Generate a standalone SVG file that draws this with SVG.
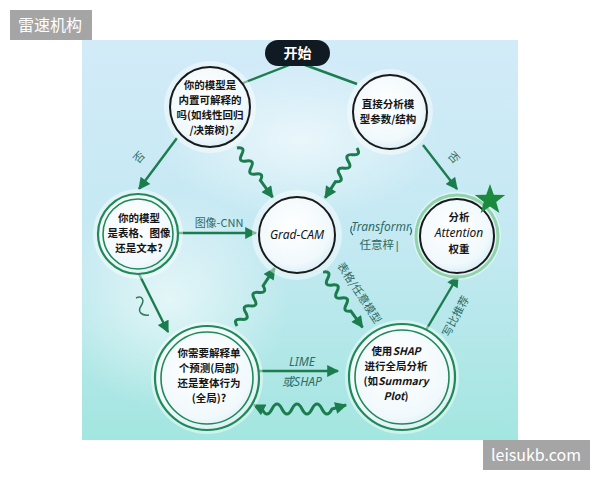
<svg xmlns="http://www.w3.org/2000/svg" width="600" height="480" viewBox="0 0 600 480">
<defs>
<linearGradient id="bg" x1="0" y1="0" x2="0" y2="1">
<stop offset="0" stop-color="#d2ebf8"/>
<stop offset="0.5" stop-color="#c4e9f2"/>
<stop offset="1" stop-color="#a3e6e0"/>
</linearGradient>
<radialGradient id="glow" cx="0.5" cy="0.5" r="0.5">
<stop offset="0" stop-color="#ffffff" stop-opacity="0.6"/>
<stop offset="1" stop-color="#ffffff" stop-opacity="0"/>
</radialGradient>
<radialGradient id="nodefill" cx="0.45" cy="0.4" r="0.6">
<stop offset="0" stop-color="#ffffff"/>
<stop offset="0.8" stop-color="#f1f9fc"/>
<stop offset="1" stop-color="#dcf0f7"/>
</radialGradient>
<marker id="ah" viewBox="0 0 10 10" refX="9" refY="5" markerWidth="13" markerHeight="12" markerUnits="userSpaceOnUse" orient="auto-start-reverse">
<path d="M0,0 L10,5 L0,10 z" fill="#1b7d4e"/>
</marker>
<style>
.ln{fill:none;stroke:#1b7d4e;stroke-width:2.4}
.wv{fill:none;stroke:#1b7d4e;stroke-width:3}
.halo{fill:#ffffff;fill-opacity:0.45}
.nb{fill:url(#nodefill);stroke:#1a1a1a;stroke-width:2}
.ng{fill:url(#nodefill);stroke:#1f8a55;stroke-width:2.2}
.ri{fill:none;stroke:#1f8a55;stroke-width:1.6}
.t{font-family:"Noto Sans CJK SC","Noto Sans",sans-serif;font-weight:700;font-size:10.5px;fill:#151515;text-anchor:middle}
.ti{font-family:"Noto Sans","Noto Sans CJK SC",sans-serif;font-style:italic;font-size:12px;fill:#151515}
.lb{font-family:"Noto Sans CJK SC","Noto Sans",sans-serif;font-size:11px;fill:#2e6b66;text-anchor:middle}
.lbi{font-family:"Noto Sans","Noto Sans CJK SC",sans-serif;font-style:italic;font-size:12px;fill:#2e6b66;text-anchor:middle}
.wm{font-family:"Noto Sans CJK SC","Liberation Sans",sans-serif;font-size:16px;fill:#ffffff}
</style>
</defs>

<rect x="0" y="0" width="600" height="480" fill="#ffffff"/>
<rect x="82" y="40" width="436" height="400" fill="url(#bg)"/>
<ellipse cx="170" cy="300" rx="120" ry="110" fill="url(#glow)"/>
<ellipse cx="300" cy="140" rx="140" ry="80" fill="url(#glow)"/>

<g id="connectors">
<path class="ln" d="M297,62 L243,83"/>
<path class="ln" d="M297,62 L357,84"/>
<path class="ln" d="M177,138 L139,189" marker-end="url(#ah)"/>
<path class="ln" d="M423,145 L457,189" marker-end="url(#ah)"/>
<path class="ln" d="M139,274 L168,332" marker-end="url(#ah)"/>
<path class="ln" d="M178,233 L256,233" marker-end="url(#ah)"/>
<path class="ln" d="M259,371 L338,371" marker-end="url(#ah)"/>
<path class="ln" d="M426,330 L458,276" marker-end="url(#ah)"/>
<path class="wv" transform="translate(237,148) rotate(54.2)" d="M0,0 q4,-8 8,0 t8,0 t8,0 t8,0 t8,0 L52,0 L61,0" marker-end="url(#ah)"/>
<path class="wv" transform="translate(357,148) rotate(122.6)" d="M0,0 q4,-8 8,0 t8,0 t8,0 t8,0 t8,0 L50,0 L59,0" marker-end="url(#ah)"/>
<path class="wv" transform="translate(323,272) rotate(54.5)" d="M0,0 q4,-8 8,0 t8,0 t8,0 t8,0 t8,0 t8,0 L58,0 L68,0" marker-end="url(#ah)"/>
<path class="wv" transform="translate(237,326) rotate(-57)" d="M0,0 q4,-8 8,0 t8,0 t8,0 t8,0 t8,0 t8,0 L58,0 L69,0" marker-end="url(#ah)"/>
<path class="wv" d="M254,405 L262,409 q5,10 10,0 t10,0 t10,0 t10,0 t10,0 t10,0 t10,0 L346,405" marker-start="url(#ah)" marker-end="url(#ah)"/>
<path fill="none" stroke="#2e7d5a" stroke-width="1.5" d="M136,298 c6,-3 9,2 5,8 s1,10 8,9"/>
<text class="lb" font-size="12" transform="translate(142,160) rotate(-48)">否</text>
<text class="lb" font-size="12" transform="translate(451,160) rotate(48)">否</text>
<text class="lb" x="219" y="227" font-size="12">图像-CNN</text>
<text class="lbi"><tspan x="302" y="366">LIME</tspan><tspan x="302" y="386">或SHAP</tspan></text>
<text class="lbi" font-size="13.5"><tspan x="381" y="231">Transformr</tspan><tspan x="380" y="249" font-style="normal" font-size="11.5">任意梓|</tspan></text>
<path fill="none" stroke="#2e6b66" stroke-width="1.2" d="M352,226 q-3,5 1,9 M410,227 q3,4 0,8"/>
<text class="lb" font-size="10" transform="translate(356,295) rotate(57)">表格/任意模型</text>
<text class="lb" font-size="10.5" transform="translate(459,318) rotate(-62)">写比推荐</text>
</g>

<g id="start">
<rect x="265" y="40" width="65" height="26" rx="13" fill="#0f1a22"/>
<text x="297.5" y="58" font-family="'Noto Sans CJK SC',sans-serif" font-weight="700" font-size="14" fill="#ffffff" text-anchor="middle">开始</text>
</g>

<g id="node-builtin">
<circle class="halo" cx="210" cy="107" r="46"/>
<circle class="nb" cx="210" cy="107" r="40"/>
<text class="t"><tspan x="210" y="89">你的模型是</tspan><tspan x="210" y="104">内置可解释的</tspan><tspan x="210" y="119">吗(如线性回归</tspan><tspan x="212" y="134">/决策树)?</tspan></text>
</g>

<g id="node-params">
<circle class="halo" cx="390" cy="112" r="43"/>
<circle class="nb" cx="390" cy="112" r="37"/>
<text class="t"><tspan x="388" y="108">直接分析模</tspan><tspan x="388" y="123">型参数/结构</tspan></text>
</g>

<g id="node-type">
<circle class="halo" cx="138" cy="234" r="45"/>
<circle class="ng" cx="138" cy="234" r="40"/>
<circle class="ri" cx="138" cy="234" r="35"/>
<text class="t"><tspan x="139" y="222">你的模型</tspan><tspan x="139" y="237">是表格、图像</tspan><tspan x="139" y="252">还是文本?</tspan></text>
</g>

<g id="node-gradcam">
<circle class="halo" cx="297" cy="235" r="45"/>
<circle class="nb" cx="297" cy="235" r="38"/>
<text class="ti" x="297" y="239" font-size="14" text-anchor="middle" fill="#111">Grad-CAM</text>
</g>

<g id="node-attention">
<circle class="halo" cx="457" cy="236" r="44"/>
<circle fill="none" stroke="#8fd3a8" stroke-width="3" cx="457" cy="236" r="41"/>
<circle class="nb" cx="457" cy="236" r="37" stroke="#1d2b25"/>
<text class="t"><tspan x="459" y="221">分析</tspan><tspan x="459" y="237" font-family="'Noto Sans',sans-serif" font-style="italic" font-weight="400" font-size="12">Attention</tspan><tspan x="459" y="253">权重</tspan></text>
<polygon fill="#1c8a3e" points="490,184 493.8,194.8 505.2,195.1 496.2,202.1 499.4,213.1 490,206.6 480.6,213.1 483.8,202.1 474.8,195.1 486.2,194.8"/>
</g>

<g id="node-scope">
<circle class="halo" cx="207" cy="378" r="56"/>
<circle class="ng" cx="207" cy="378" r="52"/>
<circle class="ri" cx="207" cy="378" r="46"/>
<text class="t"><tspan x="209" y="357">你需要解释单</tspan><tspan x="209" y="372">个预测(局部)</tspan><tspan x="209" y="387">还是整体行为</tspan><tspan x="209" y="402">(全局)?</tspan></text>
</g>

<g id="node-shap">
<circle class="halo" cx="402" cy="377" r="57"/>
<circle class="ng" cx="402" cy="377" r="53"/>
<circle class="ri" cx="402" cy="377" r="47"/>
<text class="t"><tspan x="396" y="355">使用<tspan font-style="italic">SHAP</tspan></tspan><tspan x="396" y="370">进行全局分析</tspan><tspan x="396" y="385">(如<tspan font-style="italic">Summary</tspan></tspan><tspan x="396" y="400"><tspan font-style="italic">Plot</tspan>)</tspan></text>
</g>

<g id="watermarks">
<rect x="10" y="10" width="82" height="30" fill="#a5a5a5"/>
<text class="wm" x="18" y="31">雷速机构</text>
<rect x="483" y="440" width="107" height="30" fill="#a5a5a5"/>
<text class="wm" x="491" y="461" font-family="'Liberation Sans',sans-serif">leisukb.com</text>
</g>
</svg>
